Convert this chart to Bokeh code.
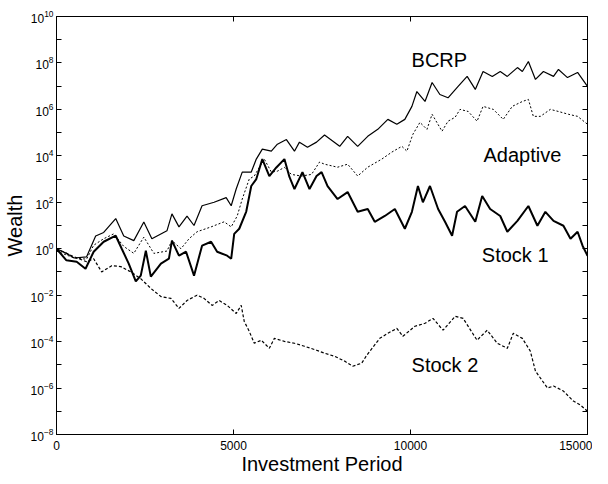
from bokeh.plotting import figure
from bokeh.models import Range1d, FixedTicker, LinearAxis, LogAxis, Label, CustomJSTickFormatter
from bokeh.embed import file_html
from bokeh.resources import INLINE

# ---- data (investment period, log10 of wealth) ----
bcrp_t = [0, 280, 500, 850, 1106, 1333, 1673, 1900, 2184, 2467, 2694, 3120, 3261, 3460, 3687, 3885,
          4112, 4452, 4793, 4935, 5076, 5247, 5502, 5644, 5814, 6069, 6240, 6495, 6722, 6863, 7090,
          7346, 7572, 8000, 8224, 8508, 8792, 9076, 9360, 9614, 9840, 10040, 10180, 10410, 10610,
          10830, 11060, 11345, 11600, 11830, 12050, 12310, 12535, 12735, 13020, 13160, 13330, 13530,
          13755, 14040, 14180, 14435, 14720, 15000]
bcrp_log = [0.0, -0.2, -0.4, -0.35, 0.55, 0.7, 1.3, 0.55, 0.35, 1.15, 0.43, 0.77, 1.5, 0.94, 1.4, 1.0,
            1.85, 2.0, 2.2, 1.85, 2.57, 3.3, 3.3, 3.86, 4.29, 4.2, 4.5, 4.7, 4.2, 4.59, 4.37,
            4.59, 4.9, 4.41, 4.84, 4.41, 4.84, 5.14, 5.57, 5.36, 5.57, 6.13, 6.77, 6.34, 7.16,
            6.64, 6.5, 6.99, 7.42, 6.86, 7.63, 7.42, 7.63, 7.42, 7.8, 7.63, 8.06, 7.29,
            7.63, 7.42, 7.72, 7.37, 7.59, 6.99]

adapt_t = [0, 500, 850, 1050, 1333, 1616, 1900, 2184, 2467, 2750, 3120, 3261, 3516, 3744, 3970, 4367,
           4736, 4935, 5105, 5247, 5445, 5587, 5729, 5870, 6069, 6240, 6438, 6636, 6920, 7204, 7430,
           7572, 7940, 8224, 8508, 8792, 9190, 9472, 9756, 9898, 10068, 10267, 10465, 10610, 10890,
           11060, 11260, 11400, 11630, 11880, 12050, 12340, 12620, 12875, 13160, 13330, 13470, 13670,
           13950, 14180, 14460, 14720, 15000]
adapt_log = [-0.1, -0.4, -0.45, 0.15, 0.43, 0.64, 0.1, -0.2, 0.5, -0.2, -0.1, 0.35, 0.0, 0.43, 0.73, 0.94,
             1.16, 0.94, 1.41, 2.14, 3.0, 3.13, 3.5, 3.86, 3.3, 3.34, 3.5, 3.2, 3.13, 3.2, 3.73,
             3.64, 3.51, 3.64, 3.13, 3.51, 3.86, 4.16, 4.41, 4.2, 4.93, 5.44, 5.14, 5.79, 5.06,
             5.49, 5.66, 6.0, 5.91, 5.49, 6.13, 6.0, 5.57, 6.13, 6.34, 6.43, 5.7, 5.7,
             6.0, 5.91, 5.79, 5.7, 5.36]

stock1_t = [0, 280, 570, 820, 1050, 1333, 1673, 1843, 2040, 2240, 2380, 2524, 2665, 2950, 3176, 3261,
            3460, 3660, 3885, 4112, 4367, 4538, 4821, 4935, 5020, 5162, 5360, 5502, 5644, 5814, 6012,
            6211, 6438, 6580, 6722, 6948, 7147, 7346, 7488, 7657, 7940, 8224, 8508, 8792, 8990, 9275,
            9558, 9840, 10040, 10210, 10350, 10550, 10780, 10975, 11175, 11315, 11540, 11830, 12025,
            12250, 12535, 12735, 13020, 13330, 13585, 13810, 14040, 14320, 14520, 14720, 14860, 15000]
stock1_log = [0.0, -0.5, -0.56, -0.86, -0.13, 0.3, 0.56, 0.0, -0.64, -1.41, -1.16, -0.09, -1.2, -0.64, -0.43, 0.35,
              -0.3, -0.13, -1.16, 0.13, 0.3, -0.13, -0.3, -0.43, 0.64, 0.86, 1.6, 2.7, 3.0, 3.86, 3.13,
              3.5, 3.86, 3.09, 2.57, 3.3, 2.57, 3.13, 3.3, 2.7, 2.14, 2.44, 1.59, 1.71, 1.16, 1.41,
              1.71, 0.86, 1.59, 2.7, 2.0, 2.7, 1.71, 1.16, 0.56, 1.59, 1.84, 1.16, 2.27,
              1.71, 1.41, 0.73, 1.2, 1.84, 0.99, 1.59, 1.2, 0.99, 0.43, 0.73, 0.13, -0.3]

stock2_t = [0, 500, 850, 1050, 1276, 1560, 1815, 2100, 2380, 2665, 2950, 3233, 3460, 3687, 3970, 4168,
            4395, 4594, 4821, 5076, 5218, 5303, 5445, 5587, 5786, 6012, 6154, 6438, 6722, 7005, 7346,
            7572, 7855, 8140, 8366, 8622, 8763, 9132, 9360, 9614, 9784, 10125, 10410, 10635, 10920,
            11260, 11487, 11880, 12167, 12450, 12735, 12905, 13160, 13385, 13530, 13870, 14040, 14320,
            14600, 14800, 15000]
stock2_log = [0.0, -0.35, -0.56, -0.43, -1.0, -0.73, -0.77, -1.0, -1.29, -1.71, -2.06, -2.14, -2.57, -2.23, -2.0, -2.14,
              -2.44, -2.23, -2.44, -2.79, -2.44, -3.13, -3.56, -4.07, -3.94, -4.29, -3.86, -3.99, -4.07, -4.2, -4.37,
              -4.5, -4.63, -4.84, -5.06, -4.93, -4.59, -3.86, -3.64, -3.43, -3.77, -3.34, -3.21, -3.0, -3.51,
              -2.91, -3.0, -3.94, -3.51, -4.07, -4.29, -3.64, -3.86, -4.41, -5.27, -6.0, -5.91, -6.13,
              -6.56, -6.73, -7.0]

x_ticks = [0, 5000, 10000, 15000]
y_major_exp = [-8, -6, -4, -2, 0, 2, 4, 6, 8, 10]
y_minor_exp = [-7, -5, -3, -1, 1, 3, 5, 7, 9]


def wealth(logs):
    return [10.0 ** v for v in logs]


FONT = "Liberation Sans"

p = figure(width=592, height=477, y_axis_type="log",
           x_range=Range1d(0, 15000), y_range=Range1d(1e-8, 1e10),
           output_backend="svg", toolbar_location=None,
           min_border_left=50, min_border_right=5, min_border_top=16, min_border_bottom=5)

p.grid.visible = False
p.outline_line_color = "black"
p.outline_line_width = 1
p.background_fill_color = "white"
p.border_fill_color = "white"

p.line(bcrp_t, wealth(bcrp_log), line_color="black", line_width=1.2)
p.line(adapt_t, wealth(adapt_log), line_color="black", line_width=1.0, line_dash="2 2")
p.line(stock1_t, wealth(stock1_log), line_color="black", line_width=2.0)
p.line(stock2_t, wealth(stock2_log), line_color="black", line_width=1.2, line_dash="3 2")

yt = FixedTicker(ticks=[10.0 ** e for e in y_major_exp], minor_ticks=[10.0 ** e for e in y_minor_exp])
xt = FixedTicker(ticks=x_ticks, minor_ticks=[])


def style(ax):
    ax.axis_line_color = "black"
    ax.major_tick_in = 5
    ax.major_tick_out = 0
    ax.minor_tick_in = 5
    ax.minor_tick_out = 0
    ax.major_tick_line_color = "black"
    ax.minor_tick_line_color = "black"
    ax.major_label_text_font = FONT
    ax.major_label_text_font_size = "12px"
    ax.major_label_text_color = "black"
    ax.axis_label_text_font = FONT
    ax.axis_label_text_font_style = "normal"
    ax.axis_label_text_font_size = "20px"
    ax.axis_label_text_color = "black"


p.xaxis.ticker = xt
p.yaxis.ticker = yt
p.xaxis.axis_label = "Investment Period"
p.yaxis.axis_label = "Wealth"
for ax in p.xaxis + p.yaxis:
    style(ax)
p.xaxis.major_label_standoff = 6
p.yaxis.major_label_standoff = 3
p.xaxis.axis_label_standoff = 0
p.yaxis.axis_label_standoff = 2

top = LinearAxis(ticker=xt, formatter=CustomJSTickFormatter(code="return '';"))
right = LogAxis(ticker=yt, formatter=CustomJSTickFormatter(code="return '';"))
for ax in (top, right):
    style(ax)
    ax.major_label_text_color = None
    ax.major_label_standoff = 0
p.add_layout(top, "above")
p.add_layout(right, "right")

for txt, xx, ee in [("BCRP", 10030, 8.14), ("Adaptive", 12060, 4.03),
                    ("Stock 1", 12015, -0.25), ("Stock 2", 10030, -5.0)]:
    p.add_layout(Label(x=xx, y=10.0 ** ee, text=txt, text_font=FONT, text_font_size="20px",
                       text_baseline="middle", text_align="left", text_color="black"))

open("out.html", "w").write(file_html(p, INLINE))
